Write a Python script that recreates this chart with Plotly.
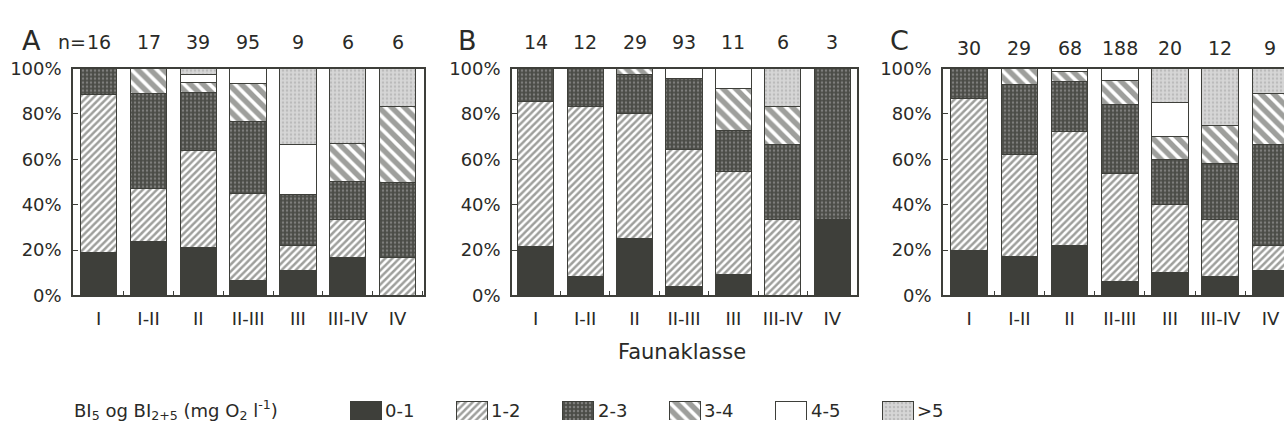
import plotly.graph_objects as go

W, H = 1284, 432

# ---------------- data ----------------
CLASSES = ["I", "I-II", "II", "II-III", "III", "III-IV", "IV"]
BI_CLASSES = ["0-1", "1-2", "2-3", "3-4", "4-5", ">5"]
Y_TICKS = [0, 20, 40, 60, 80, 100]
Y_TICK_TEXT = ["0%", "20%", "40%", "60%", "80%", "100%"]

# Panel A (percent of sites per BI class, by fauna class)
A_01 = [19.0, 24.0, 21.0, 6.5, 11.1, 16.7, 0.0]
A_12 = [69.5, 23.0, 43.0, 38.5, 11.1, 16.7, 16.7]
A_23 = [11.5, 42.0, 25.5, 31.5, 22.2, 16.7, 33.3]
A_34 = [0.0, 11.0, 4.5, 17.0, 0.0, 16.7, 33.3]
A_45 = [0.0, 0.0, 3.5, 6.5, 22.2, 0.0, 0.0]
A_GT5 = [0.0, 0.0, 2.5, 0.0, 33.3, 33.3, 16.7]
N_A = [16, 17, 39, 95, 9, 6, 6]

# Panel B
B_01 = [21.4, 8.3, 25.0, 3.8, 9.1, 0.0, 33.3]
B_12 = [64.3, 75.0, 55.0, 60.4, 45.5, 33.3, 0.0]
B_23 = [14.3, 16.7, 17.5, 31.5, 18.2, 33.3, 66.7]
B_34 = [0.0, 0.0, 2.5, 0.0, 18.2, 16.7, 0.0]
B_45 = [0.0, 0.0, 0.0, 4.3, 9.1, 0.0, 0.0]
B_GT5 = [0.0, 0.0, 0.0, 0.0, 0.0, 16.7, 0.0]
N_B = [14, 12, 29, 93, 11, 6, 3]

# Panel C
C_01 = [20.0, 17.2, 22.1, 6.0, 10.0, 8.3, 11.1]
C_12 = [66.7, 44.8, 50.0, 47.7, 30.0, 25.0, 11.1]
C_23 = [13.3, 31.0, 22.0, 30.4, 20.0, 25.0, 44.4]
C_34 = [0.0, 6.9, 4.4, 10.5, 10.0, 16.7, 22.2]
C_45 = [0.0, 0.0, 1.5, 5.4, 15.0, 0.0, 0.0]
C_GT5 = [0.0, 0.0, 0.0, 0.0, 15.0, 25.0, 11.1]
N_C = [30, 29, 68, 188, 20, 12, 9]

PANEL_LETTERS = ["A", "B", "C"]
X_TITLE = "Faunaklasse"
LEGEND_TITLE = "BI<sub>5</sub> og BI<sub>2+5</sub> (mg O<sub>2</sub> l<sup>-1</sup>)"

# ---------------- styling ----------------
FONT = "DejaVu Sans"
DARK = "#3e3f3a"
TXT = "#2a2a27"


def px_x(p):
    return p / W


def px_y(p):
    return 1 - p / H


STYLES = {
    "0-1": dict(color=DARK),
    "1-2": dict(color="white", pattern=dict(shape="/", fgcolor=DARK, bgcolor="white",
                                            size=5, solidity=0.5)),
    "2-3": dict(color="#4b4c47", pattern=dict(shape=".", fgcolor="#b0b0b0", bgcolor="#4b4c47",
                                              size=4, solidity=0.3)),
    "3-4": dict(color="white", pattern=dict(shape="\\", fgcolor=DARK, bgcolor="white",
                                            size=9, solidity=0.6)),
    "4-5": dict(color="white"),
    ">5": dict(color="#d2d2d2", pattern=dict(shape=".", fgcolor="#a0a0a0", bgcolor="#d6d6d6",
                                             size=4, solidity=0.3)),
}

panels = [
    (PANEL_LETTERS[0], [A_01, A_12, A_23, A_34, A_45, A_GT5], N_A),
    (PANEL_LETTERS[1], [B_01, B_12, B_23, B_34, B_45, B_GT5], N_B),
    (PANEL_LETTERS[2], [C_01, C_12, C_23, C_34, C_45, C_GT5], N_C),
]

# layout geometry (pixels)
X_DOMAINS = [(73, 424), (512, 857), (943, 1284)]
X_RANGES = [(-0.516, 6.53), (-0.48, 6.5), (-0.52, 6.27)]
Y_TOP, Y_BOT = 60.5, 299
BAR_W = 0.73
LETTER_X = [20, 456, 888]
LETTER_Y = 30.5
N_Y = [32.5, 33.0, 38.5]

fig = go.Figure()

for pi, (letter, series, ns) in enumerate(panels):
    s = "" if pi == 0 else str(pi + 1)
    for k, vals in enumerate(series):
        st = STYLES[BI_CLASSES[k]]
        fig.add_trace(go.Bar(
            x=CLASSES, y=vals, name=BI_CLASSES[k],
            xaxis="x" + s, yaxis="y" + s, width=BAR_W,
            marker=dict(line=dict(color=DARK, width=1), **st),
            showlegend=False,
        ))

    axis_common_x = dict(
        domain=[px_x(X_DOMAINS[pi][0]), px_x(X_DOMAINS[pi][1])],
        range=list(X_RANGES[pi]), type="category",
        categoryorder="array", categoryarray=CLASSES,
        showgrid=False, zeroline=False,
        showline=True, mirror=True, linecolor=DARK, linewidth=1.5,
        ticks="inside", tickson="boundaries", ticklen=5, tickcolor=DARK,
        tickangle=0,
        tickfont=dict(family=FONT, size=18, color=TXT),
        ticklabelstandoff=6,
        anchor="y" + s,
    )
    axis_common_y = dict(
        domain=[px_y(Y_BOT), px_y(Y_TOP)], range=[0, 100],
        tickmode="array", tickvals=Y_TICKS, ticktext=Y_TICK_TEXT,
        showgrid=False, zeroline=False,
        showline=True, mirror=(pi < 2), linecolor=DARK, linewidth=1.5,
        ticks="inside", ticklen=5, tickcolor=DARK,
        tickfont=dict(family=FONT, size=18, color=TXT),
        ticklabelstandoff=6,
        anchor="x" + s,
    )
    fig.layout["xaxis" + s] = axis_common_x
    fig.layout["yaxis" + s] = axis_common_y

    # panel letter
    fig.add_annotation(text=letter, xref="paper", yref="paper",
                       x=px_x(LETTER_X[pi]), y=px_y(LETTER_Y),
                       xanchor="left", yanchor="middle", showarrow=False,
                       font=dict(family=FONT, size=27, color=TXT))
    # n labels
    for cat, n in zip(CLASSES, ns):
        fig.add_annotation(text=str(n), xref="x" + s, yref="paper",
                           x=cat, y=px_y(N_Y[pi]), xanchor="center", yanchor="middle",
                           showarrow=False, font=dict(family=FONT, size=19, color=TXT))
    if pi == 0:
        fig.add_annotation(text="n=", xref="x", yref="paper",
                           x=CLASSES[0], y=px_y(N_Y[pi]), xanchor="right", yanchor="middle",
                           xshift=-11, showarrow=False,
                           font=dict(family=FONT, size=19, color=TXT))

# x-axis title
fig.add_annotation(text=X_TITLE, xref="paper", yref="paper",
                   x=px_x(681.5), y=px_y(358), xanchor="center", yanchor="middle",
                   showarrow=False, font=dict(family=FONT, size=21, color=TXT))

# custom legend (swatches drawn as bars on a hidden helper axis)
LEG_X0, LEG_DX, LEG_SW = 350, 106.4, 31
for k, cls in enumerate(BI_CLASSES):
    cx = LEG_X0 + k * LEG_DX + LEG_SW / 2
    fig.add_trace(go.Bar(
        x=[cx], y=[1], xaxis="x4", yaxis="y4", width=LEG_SW,
        marker=dict(line=dict(color=DARK, width=1), **STYLES[cls]),
        showlegend=False, hoverinfo="skip",
    ))
    fig.add_annotation(text=cls, xref="x4", yref="paper",
                       x=LEG_X0 + k * LEG_DX + LEG_SW + 2, y=px_y(420),
                       xanchor="left", yanchor="middle", showarrow=False,
                       font=dict(family=FONT, size=18, color=TXT))

fig.add_annotation(text=LEGEND_TITLE, xref="paper", yref="paper",
                   x=px_x(72), y=px_y(419), xanchor="left", yanchor="middle",
                   showarrow=False, font=dict(family=FONT, size=18, color=TXT))

fig.update_layout(
    xaxis4=dict(domain=[0, 1], range=[0, W], visible=False, anchor="y4"),
    yaxis4=dict(domain=[px_y(430), px_y(410)], range=[0, 1], visible=False, anchor="x4"),
    barmode="stack",
    width=W, height=H,
    margin=dict(l=0, r=0, t=0, b=0),
    plot_bgcolor="white", paper_bgcolor="white",
    font=dict(family=FONT, color=TXT),
    showlegend=False,
)

fig.write_html("out.html")
